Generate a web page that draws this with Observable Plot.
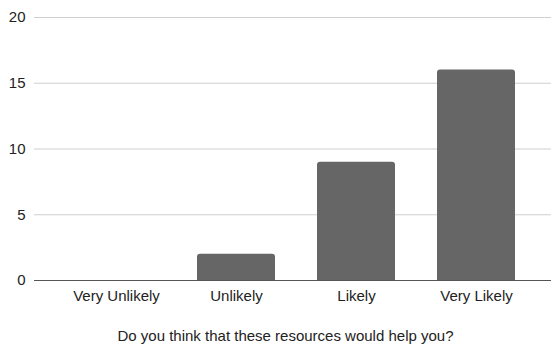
<!DOCTYPE html>
<html>
<head>
<meta charset="utf-8">
<script src="https://cdn.jsdelivr.net/npm/d3@7"></script>
<script src="https://cdn.jsdelivr.net/npm/@observablehq/plot@0.6"></script>
<style>
  html, body { margin: 0; padding: 0; background: #fff; }
  #chart svg { display: block; }
</style>
</head>
<body>
<div id="chart"></div>
<script>
// Survey answers and how many respondents picked each one
const answers = ["Very Unlikely", "Unlikely", "Likely", "Very Likely"];
const counts = [0, 2, 9, 16];
const yTicks = [0, 5, 10, 15, 20];
const xTitle = "Do you think that these resources would help you?";

const rows = answers.map((answer, i) => ({answer, count: counts[i]}));

const chart = Plot.plot({
  width: 551,
  height: 348,
  marginTop: 17,
  marginBottom: 68,
  marginLeft: 34,
  marginRight: 0,
  style: {fontFamily: "Liberation Sans, Arial, sans-serif", fontSize: "15px", color: "#222", background: "#fff"},
  x: {domain: answers, range: [56, 536], paddingInner: 0.35, paddingOuter: 0.175, label: null},
  y: {domain: [0, 20], label: null},
  marks: [
    Plot.ruleY(yTicks.filter(d => d > 0), {stroke: "#cfcfcf", strokeWidth: 1}),
    Plot.barY(rows, {x: "answer", y: "count", fill: "#666666", rx: 3, insetBottom: -4, clip: true}),
    Plot.ruleY([0], {stroke: "#555", strokeWidth: 1}),
    Plot.axisY({ticks: yTicks, tickSize: 0, tickPadding: 9, fontSize: 15, label: null}),
    Plot.axisX({tickSize: 0, tickPadding: 10, fontSize: 15, label: null}),
    Plot.text([xTitle], {frameAnchor: "bottom", dy: 56, dx: -7.5, lineAnchor: "middle", fontSize: 15, fill: "#222"})
  ]
});

document.getElementById("chart").appendChild(chart);
</script>
</body>
</html>
